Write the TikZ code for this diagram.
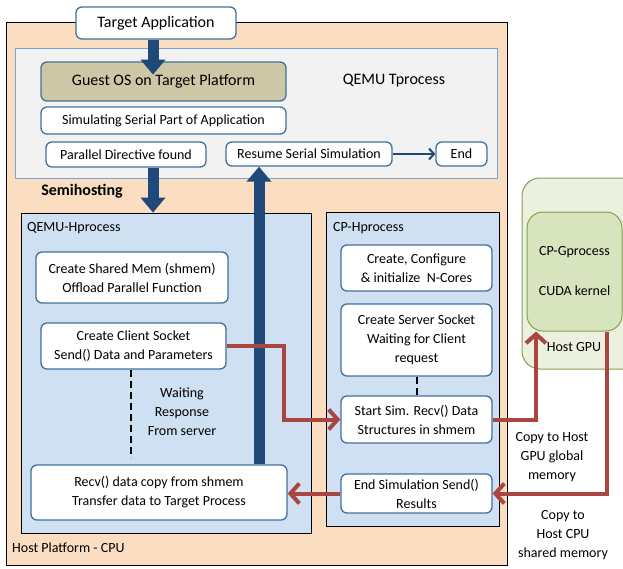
\documentclass[tikz,border=0pt]{standalone}
\usepackage{fontspec}
\setmainfont{Carlito}
\usetikzlibrary{arrows.meta}

\definecolor{peach}{RGB}{251,221,193}
\definecolor{tgray}{RGB}{242,242,242}
\definecolor{tline}{RGB}{120,165,215}
\definecolor{hblue}{RGB}{207,224,242}
\definecolor{boxblue}{RGB}{65,113,156}
\definecolor{guesttan}{RGB}{206,199,165}
\definecolor{navy}{RGB}{31,73,121}
\definecolor{darkred}{RGB}{170,70,66}
\definecolor{gpuout}{RGB}{235,241,222}
\definecolor{gpuin}{RGB}{215,228,189}
\definecolor{olive}{RGB}{130,160,80}

\newcommand{\boxfont}{\fontsize{14}{19}\selectfont}
\newcommand{\bigfont}{\fontsize{16}{19}\selectfont}

\tikzset{
  box/.style={draw=boxblue, fill=white, line width=1.3pt, rounded corners=6pt,
    inner sep=0pt, align=center, font=\boxfont},
  area/.style={draw=black, line width=0.8pt, inner sep=0pt},
  plain/.style={align=center, font=\boxfont, inner sep=0pt},
  bigarrow/.style={draw=navy, line width=11pt, -{Triangle[width=24pt,length=15pt]}},
  redarrow/.style={draw=darkred, line width=4pt, -{Straight Barb[width=20pt,length=9pt]}},
  waitline/.style={draw=black, line width=2pt, dash pattern=on 7pt off 4pt},
}

\begin{document}
\begin{tikzpicture}[x=1pt,y=-1pt]
\clip (0,0) rectangle (623,568);

% host platform and processes
\draw[fill=peach, line width=0.8pt] (6,22) rectangle (507,565);
\draw[fill=tgray, draw=tline, line width=0.8pt] (15,48) rectangle (497,178);
\node[area, fill=hblue, minimum width=290, minimum height=320] (hproc) at (166,373) {};
\node[area, fill=hblue, minimum width=173, minimum height=314] (cpproc) at (412.5,369) {};

% host gpu
\draw[fill=gpuout, draw=olive, line width=1pt, rounded corners=18pt] (522,178) rectangle (650,369);
\node[draw=olive, fill=gpuin, line width=1pt, rounded corners=16pt, minimum width=95,
  minimum height=119, inner sep=0pt, align=center, font=\boxfont] (gproc) at (574.5,271.5)
  {CP-Gprocess\\[21pt]CUDA kernel};
\node[plain] (hgpu) at (574,347) {Host GPU};

% target side
\node[box, minimum width=160, minimum height=32, font=\bigfont] (tapp) at (156,23) {Target Application};
\node[box, fill=guesttan, minimum width=245, minimum height=39, font=\bigfont] (guest) at (163.5,81.5) {Guest OS on Target Platform};
\node[box, minimum width=245, minimum height=27] (serial) at (163.5,120.5) {Simulating Serial Part of Application};
\node[box, minimum width=160, minimum height=25] (par) at (126,154.5) {Parallel Directive found};
\node[box, minimum width=166, minimum height=24] (resume) at (309,154) {Resume Serial Simulation};
\node[box, minimum width=51, minimum height=24] (endn) at (461.5,154) {End};
\node[plain, font=\bigfont] (tlabel) at (394,81) {QEMU Tprocess};
\node[plain, font=\bigfont\bfseries] (semi) at (82,191) {Semihosting};

% qemu host process
\node[plain, anchor=west] (hlabel) at (27,228) {QEMU-Hprocess};
\node[box, minimum width=192, minimum height=51] (shm) at (132,277.5) {Create Shared Mem (shmem)\\Offload Parallel Function};
\node[box, minimum width=185, minimum height=46] (client) at (133.5,346) {Create Client Socket\\Send() Data and Parameters};
\node[plain] (wait) at (182,412) {Waiting\\Response\\From server};
\node[box, minimum width=256, minimum height=55] (recv) at (159,492.5) {Recv() data copy from shmem\\Transfer data to Target Process};
\node[plain, anchor=west] (cpulabel) at (12,548) {Host Platform - CPU};

% cp host process
\node[plain, anchor=west] (cplabel) at (333,228) {CP-Hprocess};
\node[box, minimum width=151, minimum height=46] (config) at (416.5,268) {Create, Configure\\\& initialize~ N-Cores};
\node[box, minimum width=151, minimum height=72] (server) at (416.5,340) {Create Server Socket\\Waiting for Client\\request};
\node[box, minimum width=151, minimum height=47] (start) at (416.5,419.5) {Start Sim. Recv() Data\\Structures in shmem};
\node[box, minimum width=151, minimum height=39] (endsim) at (416.5,493.5) {End Simulation Send()\\Results};

\node[plain] (copygpu) at (552,457) {Copy to Host\\GPU global\\memory};
\node[plain] (copycpu) at (563,535) {Copy to\\Host CPU\\shared memory};

% connectors
\coordinate (ax) at (153,0);
\coordinate (ux) at (259,0);
\coordinate (wx) at (131,0);
\draw[bigarrow] (tapp.south -| ax) -- ++(0,35);
\draw[bigarrow] (par.south -| ax) -- (hproc.north -| ax);
\draw[bigarrow] (recv.north -| ux) -- (resume.south -| ux);
\draw[draw=navy, line width=2pt, -{Straight Barb[width=11pt,length=5pt]}] (resume) -- (endn);

\draw[waitline] (client.south -| wx) -- ++(0,88);
\draw[waitline] (server.south) -- (start.north);

\draw[redarrow] (client.east) -- ++(57,0) |- (start.west);
\draw[redarrow] (start.east) -| ([xshift=-38.5pt]gproc.south);
\draw[redarrow] ([xshift=32.5pt]gproc.south) |- (endsim.east);
\draw[redarrow] (endsim.west) -- (endsim.west -| recv.east);
\end{tikzpicture}
\end{document}
